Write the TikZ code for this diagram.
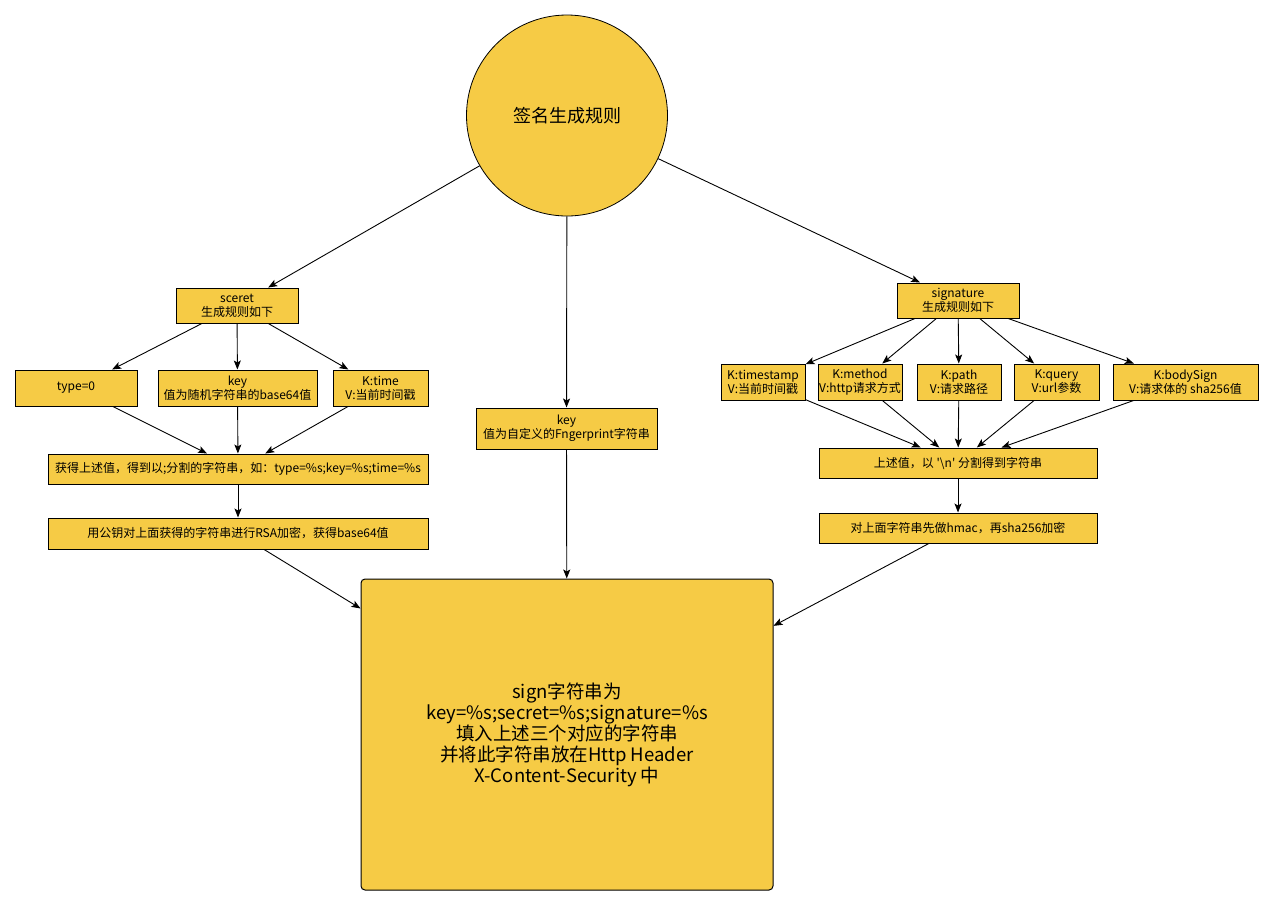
\documentclass[tikz,border=0pt]{standalone}
\usepackage{fontspec}
\setmainfont{Noto Sans CJK SC}
\newfontfamily\qfont{Noto Sans CJK SC}
\usetikzlibrary{arrows.meta}
\definecolor{boxfill}{RGB}{246,203,69}
\tikzset{
  box/.style={draw=black, fill=boxfill, line width=1pt, inner sep=0pt, align=center,
    font=\fontsize{12}{14}\selectfont},
  conn/.style={draw=black, line width=0.9pt, -{Stealth[length=9pt,width=7pt,inset=2pt]}},
}
\begin{document}
\begin{tikzpicture}[x=1pt,y=-1pt]
\useasboundingbox (0,0) rectangle (1274,906);
% root
\node[circle, draw=black, fill=boxfill, line width=0.8pt, minimum size=201pt, inner sep=0pt,
  font=\fontsize{18}{22}\selectfont] (root) at (567,115.5) {签名生成规则};
% left branch
\node[box, minimum width=122pt, minimum height=35pt] (sceret) at (237,305.5) {sceret\\生成规则如下};
\node[box, minimum width=122pt, minimum height=36pt] (type0) at (76,388) {type=0};
\node[box, minimum width=159pt, minimum height=36pt] (key1) at (237.5,388) {key\\值为随机字符串的base64值};
\node[box, minimum width=95pt, minimum height=36pt] (ktime) at (380.5,388) {K:time\\V:当前时间戳};
\node[box, minimum width=380pt, minimum height=30pt] (getv) at (238,469) {获得上述值，得到以;分割的字符串，如：type=\%s;key=\%s;time=\%s};
\node[box, minimum width=380pt, minimum height=31pt] (rsa) at (238,533.5) {用公钥对上面获得的字符串进行RSA加密，获得base64值};
% middle
\node[box, minimum width=181pt, minimum height=41pt] (key2) at (566.5,428.5) {key\\值为自定义的Fngerprint字符串};
% right branch
\node[box, minimum width=122pt, minimum height=35pt] (sig) at (958,300.5) {signature\\生成规则如下};
\node[box, minimum width=84pt, minimum height=36pt] (kts) at (763,382) {K:timestamp\\V:当前时间戳};
\node[box, minimum width=84pt, minimum height=36pt] (kmethod) at (860,382) {K:method\\V:http请求方式};
\node[box, minimum width=84pt, minimum height=36pt] (kpath) at (959,382) {K:path\\V:请求路径};
\node[box, minimum width=85pt, minimum height=36pt] (kquery) at (1056.5,382) {K:query\\V:url参数};
\node[box, minimum width=145pt, minimum height=36pt] (kbody) at (1185.5,382) {K:bodySign\\V:请求体的 sha256值};
\node[box, minimum width=278pt, minimum height=30pt] (join) at (958,463) {上述值，以 {\qfont'\textbackslash n'} 分割得到字符串};
\node[box, minimum width=278pt, minimum height=30pt] (hmac) at (958,528) {对上面字符串先做hmac，再sha256加密};
% final
\node[box, rounded corners=4pt, minimum width=412pt, minimum height=311pt,
  font=\fontsize{18.5}{21}\selectfont] (final) at (567,734.5)
  {sign字符串为\\key=\%s;secret=\%s;signature=\%s\\填入上述三个对应的字符串\\并将此字符串放在Http Header\\X-Content-Security 中};
% connectors
\draw[conn] (root) -- (sceret);
\draw[conn] (root) -- (key2);
\draw[conn] (root) -- (sig);
\draw[conn] (sceret) -- (type0);
\draw[conn] (sceret) -- (key1);
\draw[conn] (sceret) -- (ktime);
\draw[conn] (type0) -- (getv);
\draw[conn] (key1) -- (getv);
\draw[conn] (ktime) -- (getv);
\draw[conn] (getv) -- (rsa);
\draw[conn] (rsa) -- (final);
\draw[conn] (key2) -- (final);
\draw[conn] (sig) -- (kts);
\draw[conn] (sig) -- (kmethod);
\draw[conn] (sig) -- (kpath);
\draw[conn] (sig) -- (kquery);
\draw[conn] (sig) -- (kbody);
\draw[conn] (kts) -- (join);
\draw[conn] (kmethod) -- (join);
\draw[conn] (kpath) -- (join);
\draw[conn] (kquery) -- (join);
\draw[conn] (kbody) -- (join);
\draw[conn] (join) -- (hmac);
\draw[conn] (hmac) -- (final);
\end{tikzpicture}
\end{document}
